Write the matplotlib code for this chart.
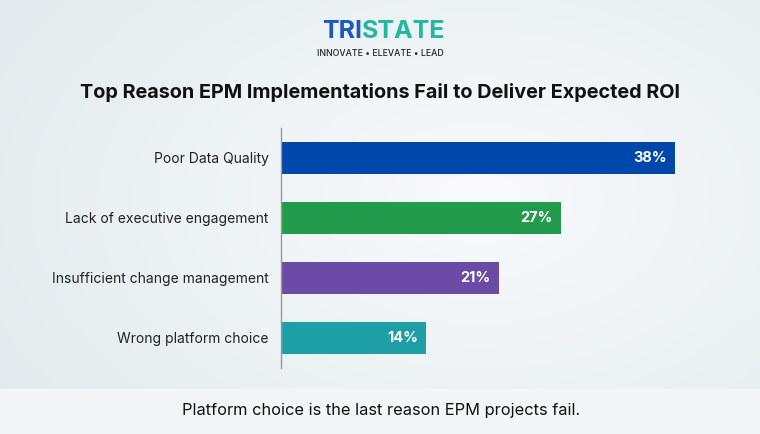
import matplotlib
matplotlib.use("Agg")
import matplotlib.pyplot as plt
import numpy as np

categories = ["Poor Data Quality", "Lack of executive engagement",
              "Insufficient change management", "Wrong platform choice"]
values = [38, 27, 21, 14]
colors = ["#0047AB", "#239B4C", "#6C4BA6", "#1E9FA8"]
title = "Top Reason EPM Implementations Fail to Deliver Expected ROI"
footer = "Platform choice is the last reason EPM projects fail."

plt.rcParams['font.family'] = ['Inter', 'DejaVu Sans']

W, H = 760, 434
fig = plt.figure(figsize=(W / 100, H / 100), dpi=100)

# background gradient
bg = fig.add_axes([0, 0, 1, 1])
yy, xx = np.mgrid[0:H, 0:W]
d = np.sqrt(((xx - 480) / 520) ** 2 + ((yy - 200) / 330) ** 2)
d = np.clip(d, 0, 1)
c1 = np.array([0.975, 0.982, 0.988])
c2 = np.array([0.895, 0.925, 0.935])
img = c1[None, None, :] * (1 - d[..., None]) + c2[None, None, :] * d[..., None]
bg.imshow(img, extent=[0, W, H, 0], aspect='auto')
bg.add_patch(plt.Rectangle((0, 389), W, 45, color="#f3f6f7", zorder=2))
bg.set_xlim(0, W)
bg.set_ylim(H, 0)
bg.axis('off')

# logo
bg.text(362, 32, "TRI", ha='right', va='center', fontsize=18, fontweight='bold',
        color="#1E5BB8", zorder=3)
bg.text(362, 32, "STATE", ha='left', va='center', fontsize=18, fontweight='bold',
        color="#22B8A0", zorder=3)
bg.text(380, 53, "INNOVATE • ELEVATE • LEAD", ha='center', va='center', fontsize=6.3,
        fontweight='medium', color="#222222", zorder=3)

# title & footer
bg.text(380, 92, title, ha='center', va='center', fontsize=14.3, fontweight='bold',
        color="#111111", zorder=3)
bg.text(381, 411, footer, ha='center', va='center', fontsize=11.8,
        color="#111111", zorder=3)

# bar chart
ax_left, ax_right = 281, 715
ax_top, ax_bot = 128, 368
ax = fig.add_axes([ax_left / W, 1 - ax_bot / H, (ax_right - ax_left) / W,
                   (ax_bot - ax_top) / H])
ax.patch.set_alpha(0)
y = np.arange(len(categories))
ax.barh(y, values, height=0.533, color=colors)
ax.set_ylim(3.5, -0.5)
ax.set_xlim(0, (ax_right - ax_left) / 10.37)
ax.set_yticks(y)
ax.set_yticklabels(categories, fontsize=10, color="#222222")
ax.tick_params(axis='y', length=0, pad=9)
ax.set_xticks([])
for s in ['top', 'right', 'bottom']:
    ax.spines[s].set_visible(False)
ax.spines['left'].set_color("#999999")
ax.spines['left'].set_linewidth(1)
for yi, v in zip(y, values):
    ax.text(v - 0.8, yi, f"{v}%", ha='right', va='center', fontsize=10.5,
            fontweight='bold', color='white')

fig.savefig("out.png", dpi=100)
